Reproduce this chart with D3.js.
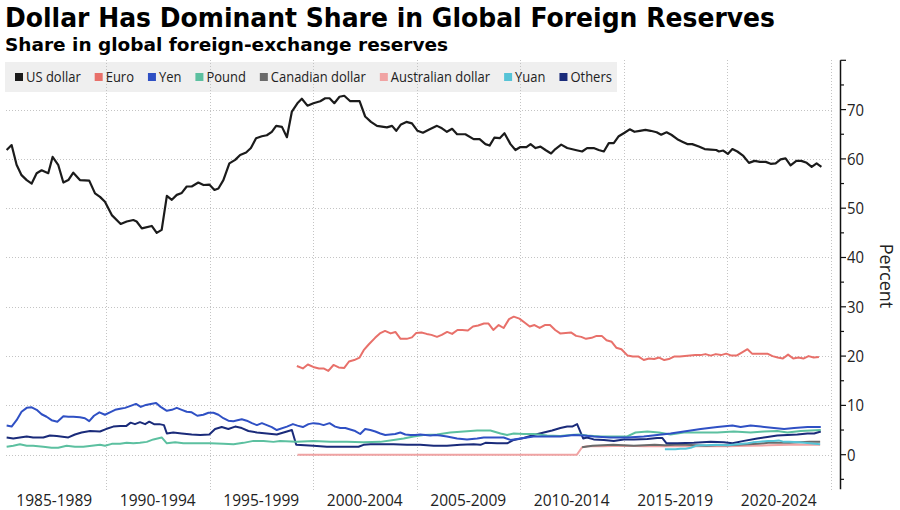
<!DOCTYPE html>
<html><head><meta charset="utf-8">
<script src="https://cdn.jsdelivr.net/npm/d3@7"></script>
<style>body{margin:0;background:#fff}svg{display:block}</style>
</head><body><svg id="c" width="900" height="510"></svg>
<script>
// ---------------- DATA ----------------
const seriesNames = ["US dollar","Euro","Yen","Pound","Canadian dollar","Australian dollar","Yuan","Others"];
const seriesColors = ["#1b1b1b","#e8706a","#2f50c4","#5cc0a0","#6b6b6b","#f0a3a3","#56c3d6","#1a2b7a"];
const periodLabels = ["1985-1989","1990-1994","1995-1999","2000-2004","2005-2009","2010-2014","2015-2019","2020-2024"];
const yTickValues = [0,10,20,30,40,50,60,70];

const usdYears = [1985.20,1985.44,1985.68,1985.92,1986.17,1986.41,1986.65,1986.89,1987.21,1987.42,1987.69,1987.94,1988.18,1988.42,1988.74,1989.19,1989.47,1989.71,1989.95,1990.28,1990.71,1991.00,1991.32,1991.48,1991.73,1992.21,1992.45,1992.69,1992.94,1993.18,1993.42,1993.66,1993.90,1994.14,1994.46,1994.71,1994.99,1995.24,1995.43,1995.67,1995.96,1996.24,1996.48,1996.77,1997.00,1997.25,1997.53,1997.77,1998.01,1998.22,1998.50,1998.74,1998.98,1999.27,1999.46,1999.73,2000.02,2000.35,2000.59,2000.80,2001.03,2001.28,2001.51,2001.80,2002.25,2002.52,2002.80,2003.09,2003.57,2003.82,2004.02,2004.25,2004.51,2004.78,2005.05,2005.31,2005.59,2005.99,2006.23,2006.47,2006.72,2006.96,2007.36,2007.76,2008.05,2008.33,2008.53,2008.76,2009.02,2009.25,2009.54,2009.78,2010.02,2010.31,2010.51,2010.75,2010.99,2011.23,2011.50,2011.71,2011.99,2012.28,2012.68,2013.00,2013.24,2013.56,2013.80,2014.05,2014.29,2014.53,2014.77,2015.05,2015.30,2015.53,2015.79,2016.06,2016.31,2016.60,2016.82,2017.08,2017.31,2017.60,2017.84,2018.08,2018.32,2018.64,2018.92,2019.21,2019.48,2019.61,2019.82,2020.04,2020.26,2020.50,2020.79,2021.06,2021.33,2021.59,2021.87,2022.11,2022.35,2022.59,2022.83,2023.07,2023.35,2023.59,2023.85,2024.09,2024.33,2024.56];
const usdValues = [61.8,62.8,58.8,56.7,55.7,55.0,57.1,57.7,57.1,60.4,58.8,55.2,55.7,57.2,55.7,55.6,53.0,52.3,51.3,48.6,46.8,47.3,47.6,47.3,45.9,46.4,45.0,45.6,52.5,51.7,52.7,53.1,54.4,54.4,55.2,54.7,54.8,53.7,54.0,55.7,59.1,59.8,60.8,61.3,62.2,64.2,64.6,64.8,65.5,66.7,66.5,64.4,69.6,71.4,72.2,70.8,71.3,71.7,72.3,72.3,71.3,72.6,72.8,71.7,71.7,68.6,67.5,66.7,66.4,66.7,65.7,67.0,67.5,67.2,65.7,65.3,65.9,66.7,66.2,65.5,66.1,65.0,65.0,64.0,64.0,63.0,62.7,64.3,64.2,65.2,63.0,61.8,62.4,62.4,63.0,62.2,62.5,61.8,61.1,62.0,62.9,62.2,61.8,61.5,62.2,62.2,61.8,61.5,63.2,63.2,64.6,65.3,66.0,65.5,65.7,65.9,65.7,65.4,64.9,65.4,64.9,64.0,63.5,63.0,63.0,62.5,62.0,61.9,61.8,61.5,61.7,61.0,62.0,61.5,60.6,59.2,59.6,59.4,59.4,59.0,59.1,59.9,60.1,58.7,59.6,59.6,59.2,58.4,59.1,58.4];

const eurYears = [1999.22,1999.51,1999.75,2000.01,2000.29,2000.51,2000.74,2000.99,2001.24,2001.51,2001.74,2001.99,2002.25,2002.45,2002.70,2003.00,2003.23,2003.48,2003.75,2003.98,2004.23,2004.53,2004.78,2004.99,2005.24,2005.49,2005.72,2005.99,2006.22,2006.48,2006.72,2006.98,2007.21,2007.48,2007.73,2007.98,2008.26,2008.48,2008.71,2008.97,2009.21,2009.47,2009.70,2009.97,2010.22,2010.47,2010.70,2010.95,2011.20,2011.45,2011.70,2011.94,2012.21,2012.46,2012.71,2012.96,2013.19,2013.46,2013.70,2013.95,2014.18,2014.43,2014.65,2014.90,2015.20,2015.45,2015.73,2015.98,2016.23,2016.48,2016.72,2016.97,2017.19,2017.44,2017.72,2017.97,2018.22,2018.47,2018.72,2018.96,2019.21,2019.46,2019.71,2019.96,2020.21,2020.46,2020.71,2020.99,2021.21,2021.45,2021.70,2021.95,2022.20,2022.45,2022.70,2022.95,2023.20,2023.45,2023.69,2023.94,2024.19,2024.44];
const eurValues = [18.0,17.5,18.3,17.8,17.5,17.5,17.0,18.2,17.7,17.6,18.9,19.2,19.7,21.2,22.4,23.7,24.6,25.1,24.6,24.9,23.5,23.5,23.8,24.7,24.8,24.5,24.3,23.9,24.3,24.9,24.5,25.3,25.3,25.2,26.0,26.2,26.6,26.6,25.3,26.3,25.7,27.5,28.0,27.6,26.8,26.0,26.3,25.7,26.3,26.3,25.3,24.6,24.7,24.8,24.1,23.9,23.5,23.7,24.1,24.1,23.2,22.9,21.7,21.4,20.1,19.9,19.9,19.2,19.5,19.4,19.7,19.2,19.4,19.9,19.9,20.0,20.1,20.2,20.2,20.4,20.1,20.4,20.2,20.5,20.1,20.1,20.7,21.4,20.5,20.5,20.5,20.5,20.0,19.7,19.5,20.3,19.5,19.7,19.5,20.0,19.7,19.8];

const jpyYears = [1985.20,1985.44,1985.68,1985.92,1986.17,1986.41,1986.65,1986.89,1987.13,1987.37,1987.65,1987.94,1988.18,1988.42,1988.74,1988.98,1989.19,1989.42,1989.68,1989.95,1990.19,1990.44,1990.68,1990.92,1991.19,1991.45,1991.68,1991.93,1992.16,1992.42,1992.64,1992.94,1993.18,1993.42,1993.66,1993.90,1994.14,1994.41,1994.70,1994.95,1995.19,1995.43,1995.67,1995.91,1996.15,1996.35,1996.56,1996.80,1997.05,1997.29,1997.53,1997.77,1998.01,1998.25,1998.74,1999.03,1999.25,1999.51,1999.78,2000.02,2000.27,2000.51,2000.80,2001.07,2001.32,2001.56,2001.80,2002.04,2002.28,2002.52,2002.77,2003.01,2003.25,2003.49,2003.73,2003.97,2004.22,2004.46,2004.70,2004.94,2005.18,2005.43,2005.67,2005.91,2006.15,2006.47,2006.96,2007.44,2007.93,2008.25,2008.73,2009.21,2009.54,2010.02,2010.66,2011.31,2011.95,2012.60,2013.08,2013.56,2014.37,2015.18,2015.98,2016.63,2017.27,2017.92,2018.73,2019.53,2020.26,2020.66,2021.14,2021.63,2022.27,2022.76,2023.24,2023.89,2024.53];
const jpyValues = [5.9,5.7,7.0,8.7,9.5,9.6,9.1,8.2,7.7,7.0,6.7,7.8,7.7,7.7,7.6,7.4,6.8,7.9,8.6,8.1,8.6,9.1,9.3,9.5,9.9,10.3,9.7,10.1,10.3,10.5,9.7,8.9,9.1,9.5,9.1,8.7,8.6,7.9,8.1,8.5,8.5,8.1,7.4,6.9,6.8,7.0,7.2,6.9,6.4,6.0,6.4,6.0,5.6,5.0,5.7,6.2,5.9,5.6,6.2,6.4,6.3,6.0,6.4,5.7,5.4,5.4,5.1,4.8,4.2,5.2,5.0,4.7,4.3,4.0,4.1,4.2,4.5,4.1,4.0,4.0,4.1,4.0,3.9,4.0,3.9,3.7,3.3,3.1,3.3,3.5,3.5,3.5,3.0,3.3,3.7,3.7,3.7,4.0,3.9,3.7,3.5,3.5,3.7,4.0,4.3,4.7,5.2,5.6,5.9,5.6,5.9,5.7,5.4,5.2,5.4,5.6,5.6];

const gbpYears = [1985.20,1985.52,1985.84,1986.17,1986.48,1986.97,1987.37,1987.69,1988.10,1988.50,1988.90,1989.31,1989.71,1989.95,1990.28,1990.68,1991.00,1991.32,1991.64,1991.97,1992.29,1992.69,1992.94,1993.34,1993.74,1994.39,1995.03,1995.67,1996.16,1996.64,1997.12,1997.61,1998.09,1998.41,1999.22,2000.02,2000.83,2001.64,2002.44,2003.25,2003.89,2004.38,2004.86,2005.34,2005.99,2006.63,2007.28,2007.93,2008.57,2009.06,2009.38,2009.70,2010.18,2010.66,2011.31,2011.95,2012.44,2012.84,2013.24,2013.88,2014.53,2015.18,2015.58,2016.15,2016.71,2017.27,2017.92,2018.73,2019.53,2020.33,2021.14,2021.78,2022.43,2022.92,2023.56,2024.53];
const gbpValues = [1.6,1.8,2.1,1.8,1.8,1.6,1.4,1.4,1.8,1.6,1.6,1.8,2.0,1.8,2.2,2.2,2.4,2.3,2.4,2.6,3.1,3.5,2.3,2.5,2.3,2.3,2.3,2.2,2.1,2.4,2.8,2.8,2.6,2.8,2.6,2.8,2.6,2.6,2.5,2.6,3.0,3.3,3.7,4.0,4.1,4.5,4.7,4.9,4.9,4.3,4.0,4.3,4.2,4.2,3.9,3.8,4.0,4.1,3.9,3.7,3.7,3.7,4.5,4.7,4.5,4.1,4.5,4.5,4.5,4.7,4.5,4.7,4.8,4.5,4.8,5.0];

const cadYears = [2013.0,2013.5,2014.0,2014.5,2015.0,2015.5,2016.0,2016.5,2017.0,2017.5,2018.0,2018.5,2019.0,2019.5,2020.0,2020.5,2021.0,2021.5,2022.0,2022.5,2023.0,2023.5,2024.0,2024.5];
const cadValues = [1.5,1.8,1.9,2.0,1.9,1.8,1.9,2.0,1.9,2.0,2.0,1.9,1.8,1.9,1.9,2.0,2.1,2.2,2.4,2.4,2.4,2.5,2.6,2.6];

const audYears = [1999.25,2000,2001,2002,2003,2004,2005,2006,2007,2008,2009,2010,2011,2012,2012.75,2013.0,2013.25,2014,2015,2016,2017,2018,2019,2020,2021,2022,2023,2024,2024.5];
const audValues = [0,0,0,0,0,0,0,0,0,0,0,0,0,0,0,1.5,1.7,1.7,1.8,1.7,1.7,1.7,1.7,1.7,1.8,1.9,2.0,2.0,2.0];

const cnyYears = [2017.0,2017.25,2017.5,2017.75,2018.0,2018.25,2018.5,2018.75,2019.0,2019.5,2020.0,2020.5,2021.0,2021.25,2021.5,2022.0,2022.25,2022.5,2022.75,2023.0,2023.5,2024.0,2024.25,2024.5];
const cnyValues = [1.1,1.1,1.1,1.2,1.2,1.4,1.8,1.9,1.9,2.0,1.9,2.1,2.3,2.5,2.6,2.8,2.8,2.9,2.6,2.6,2.5,2.3,2.2,2.1];

const othYears = [1985.20,1985.52,1985.84,1986.17,1986.48,1986.97,1987.29,1987.62,1988.18,1988.50,1988.82,1989.23,1989.71,1990.00,1990.35,1990.68,1990.97,1991.19,1991.40,1991.64,1991.89,1992.09,1992.32,1992.58,1992.80,1992.94,1993.25,1993.66,1994.14,1994.55,1994.99,1995.27,1995.59,1995.91,1996.24,1996.56,1996.88,1997.29,1997.77,1998.25,1998.74,1998.98,1999.19,2000.02,2000.67,2001.64,2002.20,2002.44,2002.77,2003.25,2003.89,2004.54,2005.18,2005.83,2006.47,2007.12,2007.76,2008.09,2008.33,2008.89,2009.38,2009.70,2010.18,2010.66,2011.15,2011.55,2011.95,2012.28,2012.52,2012.76,2013.05,2013.24,2013.56,2014.05,2014.53,2015.01,2015.50,2016.15,2016.63,2016.87,2017.08,2017.60,2018.40,2019.21,2019.85,2020.26,2020.82,2021.46,2021.95,2022.43,2022.92,2023.40,2023.89,2024.21,2024.53];
const othValues = [3.5,3.3,3.5,3.7,3.5,3.5,3.9,3.8,3.5,4.1,4.5,4.8,4.7,5.2,5.7,5.8,5.8,6.5,6.2,6.6,6.2,6.7,6.2,6.2,6.0,4.3,4.5,4.3,4.1,4.0,4.1,5.2,5.6,5.2,5.7,5.4,4.8,4.5,4.3,4.1,4.7,5.0,2.0,1.8,1.6,1.6,1.6,2.0,2.1,2.1,2.1,2.0,2.0,1.8,1.8,2.0,2.1,2.0,2.4,2.3,2.3,3.0,3.4,4.0,4.5,4.9,5.4,5.7,5.7,6.2,3.3,3.5,3.1,3.0,2.8,3.1,3.1,3.2,3.4,3.4,2.3,2.3,2.4,2.6,2.5,2.3,2.8,3.3,3.6,3.9,4.0,4.1,4.3,4.3,4.7];

// ---------------- CHART ----------------
const svg = d3.select("#c");
const x = d3.scaleLinear().domain([1985, 2025]).range([2.5, 830.5]);
const y = d3.scaleLinear().domain([-7, 80]).range([489.2, 60.3]);

svg.append("rect").attr("width",900).attr("height",510).attr("fill","#fff");

// Title / subtitle
svg.append("text").attr("x",5).attr("y",27)
  .attr("font-family","DejaVu Sans").attr("font-weight","bold").attr("font-size",26)
  .attr("fill","#000").attr("textLength",770).attr("lengthAdjust","spacingAndGlyphs")
  .text("Dollar Has Dominant Share in Global Foreign Reserves");
svg.append("text").attr("x",5).attr("y",51)
  .attr("font-family","DejaVu Sans").attr("font-weight","bold").attr("font-size",18)
  .attr("fill","#000").attr("textLength",443).attr("lengthAdjust","spacingAndGlyphs")
  .text("Share in global foreign-exchange reserves");

// Legend background
svg.append("rect").attr("x",5).attr("y",62).attr("width",612).attr("height",30).attr("fill","#efefef");

// Gridlines
const grid = svg.append("g").attr("stroke","#c4c4c4").attr("stroke-width",1).attr("stroke-dasharray","1,2");
grid.selectAll("line.h").data(yTickValues).join("line").attr("class","h")
  .attr("x1",6).attr("x2",832).attr("y1",d=>Math.round(y(d))+0.5).attr("y2",d=>Math.round(y(d))+0.5);
const vYears = d3.range(1990, 2026, 5);
grid.selectAll("line.v").data(vYears).join("line").attr("class","v")
  .attr("x1",d=>Math.round(x(d))+0.5).attr("x2",d=>Math.round(x(d))+0.5).attr("y1",60).attr("y2",490);

// Legend items
const legend = svg.append("g");
let lx = 15;
const measure = svg.append("text").attr("font-family","Open Sans").attr("font-size",14).text("Canadian dollar");
const kLeg = 95 / measure.node().getComputedTextLength();
measure.remove();
seriesNames.forEach((n,i)=>{
  legend.append("rect").attr("x",lx).attr("y",73).attr("width",8).attr("height",8).attr("fill",seriesColors[i]);
  const t = legend.append("text").attr("x",lx+11).attr("y",82)
    .attr("font-family","Open Sans").attr("font-size",14).attr("fill","#222").text(n);
  const w = t.node().getComputedTextLength()*kLeg;
  t.attr("textLength",w).attr("lengthAdjust","spacingAndGlyphs");
  lx = lx + 11 + w + 14;
});

// Lines
const line = d3.line().x(d=>x(d[0])).y(d=>y(d[1]));
const zip = (a,b)=>a.map((v,i)=>[v,b[i]]);
const seriesData = [
  {name:"Australian dollar", data: zip(audYears,audValues)},
  {name:"Canadian dollar", data: zip(cadYears,cadValues)},
  {name:"Others", data: zip(othYears,othValues)},
  {name:"Yuan", data: zip(cnyYears,cnyValues)},
  {name:"Pound", data: zip(gbpYears,gbpValues)},
  {name:"Yen", data: zip(jpyYears,jpyValues)},
  {name:"Euro", data: zip(eurYears,eurValues)},
  {name:"US dollar", data: zip(usdYears,usdValues)}
];
svg.append("g").selectAll("path").data(seriesData).join("path")
  .attr("d",d=>line(d.data)).attr("fill","none")
  .attr("stroke",d=>seriesColors[seriesNames.indexOf(d.name)])
  .attr("stroke-width",d=>d.name==="US dollar"?2.2:2)
  .attr("stroke-linejoin","round");

// Right axis
const ax = svg.append("g");
ax.append("line").attr("x1",840.5).attr("x2",840.5).attr("y1",y(80)).attr("y2",y(-7)).attr("stroke","#111").attr("stroke-width",1.5);
ax.selectAll("line.t").data(d3.range(-5,81,5)).join("line").attr("class","t")
  .attr("x1",840.5).attr("x2",d=>d%10===0?846:844).attr("y1",d=>y(d)).attr("y2",d=>y(d))
  .attr("stroke","#111").attr("stroke-width",1.2);
const mt = svg.append("text").attr("font-family","Open Sans").attr("font-size",17).text("70");
const kTick = 17 / mt.node().getComputedTextLength();
mt.remove();
ax.selectAll("text").data(yTickValues).join("text")
  .attr("x",847).attr("y",d=>y(d)).attr("dy","0.35em")
  .attr("font-family","Open Sans").attr("font-size",17).attr("fill","#222")
  .text(d=>d)
  .each(function(){ const w=this.getComputedTextLength()*kTick; d3.select(this).attr("textLength",w).attr("lengthAdjust","spacingAndGlyphs"); });
svg.append("text").attr("transform","translate(880,276) rotate(90)")
  .attr("text-anchor","middle").attr("font-family","Open Sans").attr("font-size",18).attr("fill","#222")
  .text("Percent");

// X labels
const mx = svg.append("text").attr("font-family","Open Sans").attr("font-size",17).text("1985-1989");
const kX = 76 / mx.node().getComputedTextLength();
mx.remove();
svg.append("g").selectAll("text").data(periodLabels).join("text")
  .attr("x",(d,i)=>x(1987.5+5*i)).attr("y",506).attr("text-anchor","middle")
  .attr("font-family","Open Sans").attr("font-size",17).attr("fill","#222")
  .text(d=>d)
  .each(function(){ const w=this.getComputedTextLength()*kX; d3.select(this).attr("textLength",w).attr("lengthAdjust","spacingAndGlyphs"); });
</script>
</body></html>
